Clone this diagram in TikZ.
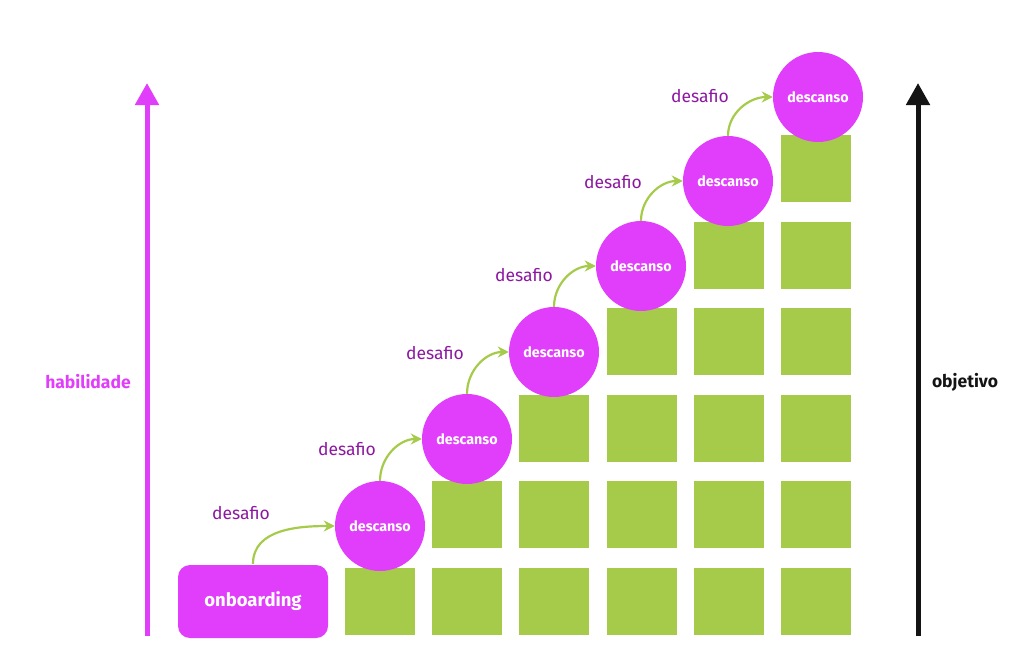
\documentclass[tikz,border=0pt]{standalone}
\usepackage{fontspec}
\setmainfont{Fira Sans}
\usetikzlibrary{arrows.meta}
\definecolor{mag}{RGB}{224,62,250}
\definecolor{grn}{RGB}{166,203,74}
\definecolor{dpurp}{RGB}{140,24,160}
\definecolor{axblk}{RGB}{20,20,20}
\tikzset{
  blk/.style={fill=grn, draw=none, minimum width=70pt, minimum height=67pt, inner sep=0pt},
  rest/.style={circle, fill=mag, draw=none, minimum size=90pt, inner sep=0pt, text=white, font=\fontsize{14.3}{16}\selectfont\bfseries},
  lbl/.style={text=dpurp, font=\fontsize{17.5}{19}\selectfont},
  conn/.style={draw=grn, line width=2.2pt, -{Stealth[length=11pt,width=11pt]}},
  axis/.style={line width=5pt, -{Triangle[length=22pt,width=23pt]}},
}
\begin{document}
\begin{tikzpicture}[x=1pt,y=-1pt]
\useasboundingbox (0,0) rectangle (1024,670);
% green blocks
\foreach \c in {1,...,6}{
  \foreach \r in {1,...,\c}{
    \node[blk] (b\c\r) at ({380+87.2*(\c-1)}, {601.5-86.6*(\r-1)}) {};
  }
}
% onboarding
\node[fill=mag, rounded corners=12pt, minimum width=150pt, minimum height=73pt, inner sep=0pt, text=white, font=\fontsize{18.5}{20}\selectfont\bfseries] (onb) at (253,601.5) {onboarding};
% circles
\node[rest] (c1) at (380,526) {descanso};
\node[rest] (c2) at (467,439) {descanso};
\node[rest] (c3) at (554,352) {descanso};
\node[rest] (c4) at (641,266) {descanso};
\node[rest] (c5) at (728,181) {descanso};
\node[rest] (c6) at (818,97) {descanso};
% connectors
\draw[conn] (onb.north) ++(0,-1) coordinate (s0) (s0) to[out=90,in=180] (c1.west);
\draw[conn] (c1.north) to[out=90,in=180] (c2.west);
\draw[conn] (c2.north) to[out=90,in=180] (c3.west);
\draw[conn] (c3.north) to[out=90,in=180] (c4.west);
\draw[conn] (c4.north) to[out=90,in=180] (c5.west);
\draw[conn] (c5.north) to[out=90,in=180] (c6.west);
% labels
\node[lbl] (d1) at (241,513) {desafio};
\node[lbl] (d2) at (347,449) {desafio};
\node[lbl] (d3) at (435,353) {desafio};
\node[lbl] (d4) at (524,275) {desafio};
\node[lbl] (d5) at (613,182) {desafio};
\node[lbl] (d6) at (700,96) {desafio};
% axes
\coordinate (la) at (147,636);
\coordinate (lb) at (147,83);
\draw[axis, draw=mag, fill=mag] (la) -- (lb);
\coordinate (ra) at (918,636);
\coordinate (rb) at (918,83);
\draw[axis, draw=axblk, fill=axblk] (ra) -- (rb);
\node[text=mag, font=\fontsize{17.5}{19}\selectfont\bfseries] (hab) at (88,382) {habilidade};
\node[text=axblk, font=\fontsize{17.5}{19}\selectfont\bfseries] (obj) at (965,382) {objetivo};
\end{tikzpicture}
\end{document}
